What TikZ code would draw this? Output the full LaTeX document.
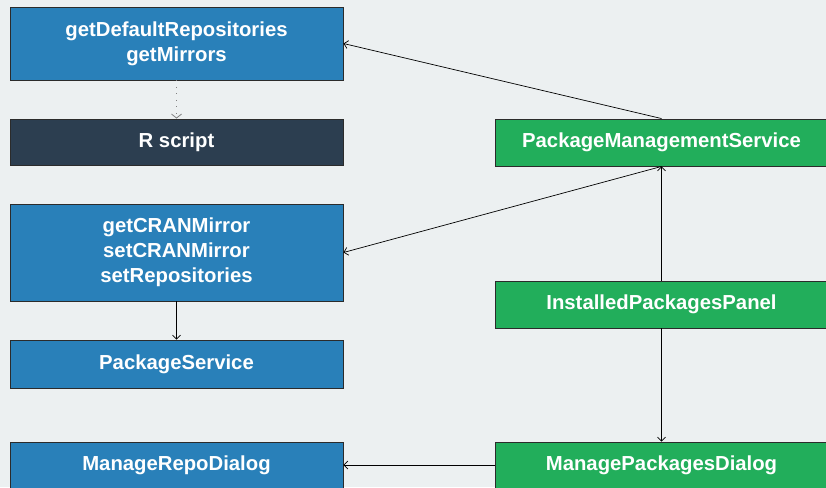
\documentclass[tikz,border=0pt]{standalone}
\usepackage{fontspec}
\setmainfont{Liberation Sans}
\usetikzlibrary{arrows.meta}
\definecolor{bg}{HTML}{ECF0F1}
\definecolor{bluebox}{HTML}{2980B9}
\definecolor{darkbox}{HTML}{2C3E50}
\definecolor{greenbox}{HTML}{22AE5B}
\definecolor{edgecol}{HTML}{2B2B2B}
\tikzset{
  box/.style={draw=edgecol, line width=0.9pt, minimum width=333pt, text=white, align=center,
    inner sep=0pt, font=\fontsize{20.3}{24.8}\selectfont\bfseries},
  bluenode/.style={box, fill=bluebox},
  darknode/.style={box, fill=darkbox},
  greennode/.style={box, fill=greenbox},
  conn/.style={draw=black, line width=0.7pt, -{Straight Barb[length=4pt,width=8pt]}},
  dotconn/.style={draw=gray, line width=1pt, dash pattern=on 1pt off 5.5pt, -{Straight Barb[length=4pt,width=10pt,line width=0.8pt]}},
}
\begin{document}
\begin{tikzpicture}[x=1pt,y=-1pt]
\useasboundingbox (0,0) rectangle (826,487);
\fill[bg] (0,0) rectangle (826,487);
\node[bluenode, minimum height=73pt] (defrepo) at (176.5,43.5) {getDefaultRepositories\\getMirrors};
\node[darknode, minimum height=46pt] (rscript) at (176.5,142) {R script};
\node[bluenode, minimum height=97pt] (cran) at (176.5,252.5) {getCRANMirror\\setCRANMirror\\setRepositories};
\node[bluenode, minimum height=48pt] (pkgsvc) at (176.5,364) {PackageService};
\node[bluenode, minimum height=46pt] (repodlg) at (176.5,465) {ManageRepoDialog};
\node[greennode, minimum height=47pt] (pms) at (661.5,142.5) {PackageManagementService};
\node[greennode, minimum height=47pt] (ipp) at (661.5,304.5) {InstalledPackagesPanel};
\node[greennode, minimum height=46pt] (mpd) at (661.5,465) {ManagePackagesDialog};
\draw[dotconn] (defrepo.south) -- (rscript.north);
\draw[conn] (cran.south) -- (pkgsvc.north);
\draw[conn] (pms.north) -- (defrepo.east);
\draw[conn] (pms.south) -- (cran.east);
\draw[conn] (ipp.north) -- (pms.south);
\draw[conn] (ipp.south) -- (mpd.north);
\draw[conn] (mpd.west) -- (repodlg.east);
\end{tikzpicture}
\end{document}
